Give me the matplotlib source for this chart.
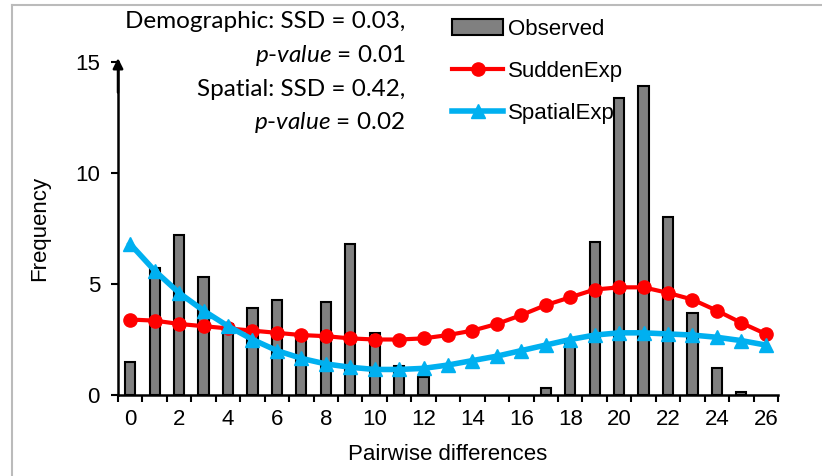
import matplotlib
matplotlib.use("Agg")
import matplotlib.pyplot as plt
from matplotlib.lines import Line2D
import numpy as np

# Daten
pairwise = list(range(27))
observed = [1.5, 5.7, 7.2, 5.3, 3.2, 3.9, 4.3, 2.7, 4.2, 6.8, 2.8, 1.3, 0.8, 0, 0, 0,
            0, 0.3, 2.3, 6.9, 13.4, 13.9, 8.0, 3.7, 1.2, 0.15, 0]
sudden_exp = [3.4, 3.35, 3.2, 3.1, 3.0, 2.9, 2.8, 2.7, 2.65, 2.55, 2.5, 2.5, 2.55, 2.7,
              2.9, 3.2, 3.6, 4.05, 4.4, 4.75, 4.85, 4.85, 4.6, 4.3, 3.8, 3.25, 2.75]
spatial_exp = [6.8, 5.6, 4.6, 3.8, 3.1, 2.5, 2.0, 1.65, 1.4, 1.25, 1.15, 1.15, 1.2, 1.35,
               1.55, 1.75, 2.0, 2.25, 2.5, 2.7, 2.8, 2.8, 2.75, 2.7, 2.6, 2.45, 2.25]
xtick_labels = [str(i) for i in range(0, 27, 2)]
stats_lines = [("Demographic: SSD = 0.03,", False),
               ("p-value = 0.01", True),
               ("Spatial: SSD = 0.42,", False),
               ("p-value = 0.02", True)]

plt.rcParams['font.family'] = ['Liberation Sans', 'DejaVu Sans']
plt.rcParams['mathtext.fontset'] = 'custom'
plt.rcParams['mathtext.it'] = 'Lato:italic'
plt.rcParams['mathtext.rm'] = 'Lato'

fig = plt.figure(figsize=(8.22, 4.76), dpi=100)
ax = fig.add_axes([118/822, 1 - 395/476, 660/822, 333/476])

# leere Balken ohne Rand
lws = [1.5 if v > 0 else 0 for v in observed]
ax.bar(pairwise, observed, width=0.42, color='#808080', edgecolor='black', linewidth=lws,
       label='Observed', zorder=2)
ax.plot(pairwise, sudden_exp, color='#FF0000', lw=3, marker='o', markersize=9.5,
        label='SuddenExp', zorder=3)
ax.plot(pairwise, spatial_exp, color='#00B0F0', lw=4, marker='^', markersize=9.5,
        label='SpatialExp', zorder=4)

ax.set_xlim(-0.5, 26.5)
ax.set_ylim(0, 15)
ax.set_xticks(range(0, 27, 2))
ax.set_xticklabels(xtick_labels)
ax.set_xticks(np.arange(-0.5, 27, 1), minor=True)
ax.set_yticks([0, 5, 10, 15])
ax.tick_params(axis='x', which='major', length=0, labelsize=16, pad=10)
ax.tick_params(axis='x', which='minor', length=5, width=1.5, direction='out')
ax.tick_params(axis='y', length=5, width=1.5, labelsize=16, pad=8)

for s in ['top', 'right']:
    ax.spines[s].set_visible(False)
for s in ['left', 'bottom']:
    ax.spines[s].set_linewidth(1.8)

# Pfeil an der y-Achse
ax.annotate('', xy=(-0.5, 15.3), xytext=(-0.5, 13.5),
            arrowprops=dict(arrowstyle='-|>', lw=1.8, color='black', mutation_scale=15),
            annotation_clip=False)

ax.set_xlabel('Pairwise differences', fontsize=16, labelpad=10)
ax.set_ylabel('Frequency', fontsize=16, labelpad=18)

# Statistik-Text
y0 = 1 - 22/476
for i, (txt, it) in enumerate(stats_lines):
    if it:
        txt = r'$\mathit{p}$-$\mathit{value}$' + txt[7:]
    fig.text(405/822, y0 - i*33.5/476, txt, ha='right', va='center', fontsize=17.5,
             family='Lato')

# Legende
handles = [plt.Rectangle((0, 0), 1, 1, facecolor='#808080', edgecolor='black', lw=1.5),
           Line2D([], [], color='#FF0000', lw=3, marker='o', markersize=9.5),
           Line2D([], [], color='#00B0F0', lw=4, marker='^', markersize=9.5)]
fig.legend(handles, ['Observed', 'SuddenExp', 'SpatialExp'], loc='upper left',
           bbox_to_anchor=(452/822, 1 - 19/476), frameon=False, fontsize=16,
           borderpad=0, borderaxespad=0, handlelength=2.3, handletextpad=0.2,
           labelspacing=0.95)

# Rahmen oben und links
fig.add_artist(Line2D([12/822, 12/822], [0, 1 - 5/476], color='#BBBBBB', lw=1.5))
fig.add_artist(Line2D([12/822, 1], [1 - 5/476, 1 - 5/476], color='#BBBBBB', lw=1.5))

fig.savefig('out.png', dpi=100)
